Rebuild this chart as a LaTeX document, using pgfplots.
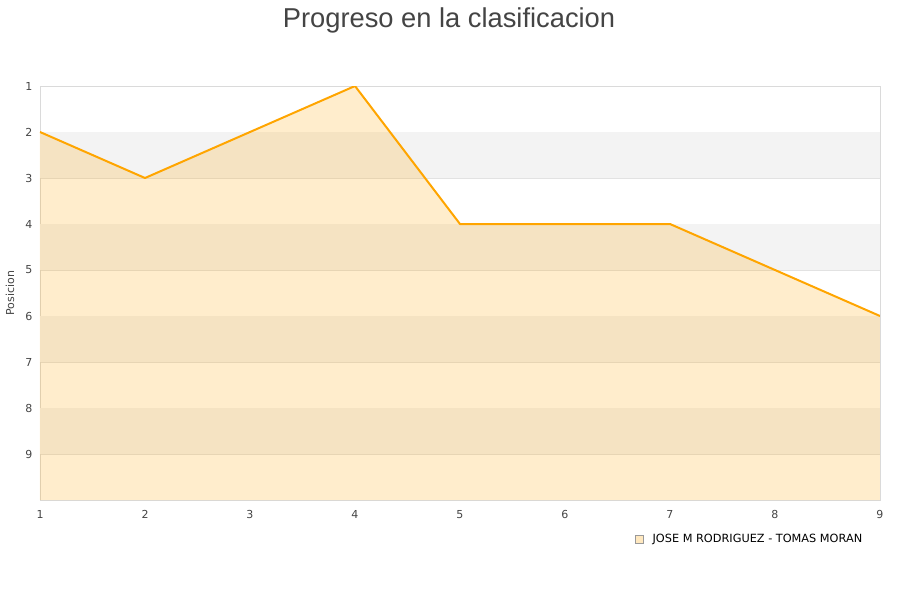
\documentclass[border=0pt]{standalone}
\usepackage{fontspec}
\setmainfont{DejaVu Sans}
\newfontfamily\titlefont{Liberation Sans}
\usepackage{pgfplots}
\pgfplotsset{compat=1.18}

\definecolor{lineorange}{HTML}{FFA500}
\definecolor{bandgray}{HTML}{F3F3F3}
\definecolor{gridgray}{HTML}{E2E2E2}
\definecolor{boxgray}{HTML}{DADADA}
\definecolor{txt}{HTML}{444444}

\begin{document}
\begin{tikzpicture}[x=1pt,y=1pt]
\path[use as bounding box] (-40,-100) rectangle (860,500);
\begin{axis}[
    scale only axis,
    width=840pt, height=414pt,
    xmin=1, xmax=9,
    ymin=1, ymax=10,
    y dir=reverse,
    xtick={1,...,9},
    ytick={1,...,9},
    major tick length=0pt,
    axis line style={boxgray},
    ymajorgrids,
    grid style={gridgray, line width=0.6pt},
    tick label style={font=\fontsize{11}{13}\selectfont, text=txt},
    /pgf/number format/assume math mode=true,
    xticklabel style={yshift=-7pt},
    yticklabel style={xshift=-4pt},
    ylabel={Posicion},
    ylabel style={at={(axis description cs:-0.0357,0.5)}, anchor=center,
        font=\fontsize{11}{13}\selectfont, text=txt},
    legend style={at={(axis description cs:0.985,-0.095)}, anchor=east,
        draw=none, fill=none, font=\fontsize{11.3}{13}\selectfont,
        legend cell align=left},
    legend image code/.code={
        \draw[draw=gray!80, fill=lineorange!25, fill opacity=1, line width=0.6pt]
            (0pt,-4pt) rectangle (8pt,4pt);
        \path (15pt,0pt);
    },
]
% alternating bands
\fill[bandgray] (axis cs:1,2) rectangle (axis cs:9,3);
\fill[bandgray] (axis cs:1,4) rectangle (axis cs:9,5);
\fill[bandgray] (axis cs:1,6) rectangle (axis cs:9,7);
\fill[bandgray] (axis cs:1,8) rectangle (axis cs:9,9);

\addplot[fill=lineorange, fill opacity=0.2, draw=none] coordinates {
    (1,10) (1,2) (2,3) (3,2) (4,1) (5,4) (6,4) (7,4) (8,5) (9,6) (9,10)
} -- cycle;
\addlegendentry{JOSE M RODRIGUEZ - TOMAS MORAN}

\addplot[lineorange, line width=2pt, line join=round, forget plot] coordinates {
    (1,2) (2,3) (3,2) (4,1) (5,4) (6,4) (7,4) (8,5) (9,6)
};
\end{axis}
\node[font=\titlefont\fontsize{27.3}{32}\selectfont, text=txt, anchor=base]
    at (409,472) {Progreso en la clasificacion};
\end{tikzpicture}
\end{document}
